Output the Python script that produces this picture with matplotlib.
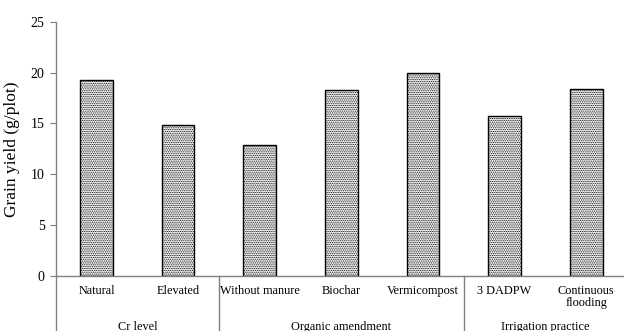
import numpy as np
import matplotlib
matplotlib.use("Agg")
from matplotlib import pyplot as plt
import matplotlib.transforms as mtransforms

categories = ["Natural", "Elevated", "Without manure", "Biochar", "Vermicompost",
              "3 DADPW", "Continuous\nflooding"]
grain_yield = [19.3, 14.8, 12.9, 18.3, 20.0, 15.7, 18.4]
groups = ["Cr level", "Organic amendment", "Irrigation practice"]
group_sizes = [2, 3, 2]

plt.rcParams['font.family'] = ['Liberation Serif', 'DejaVu Serif']
plt.rcParams['hatch.linewidth'] = 0.6
plt.rcParams['hatch.color'] = '#303030'

fig = plt.figure(figsize=(6.24, 3.31), dpi=100)
W, H = 624.0, 331.0
ax = fig.add_axes([55.7/W, (H-276)/H, (627-55.7)/W, (276-21.7)/H])

x = np.arange(len(categories))
ax.bar(x, grain_yield, width=0.4, color='white', edgecolor='black',
       linewidth=1.0, hatch='.........')

ax.set_xlim(-0.5, len(categories)-0.5)
ax.set_ylim(0, 25)
ax.set_yticks([0, 5, 10, 15, 20, 25])
ax.set_xticks([])
ax.tick_params(axis='y', labelsize=10, length=4, width=0.8, color='#808080', pad=4)
ax.set_ylabel("Grain yield (g/plot)", fontsize=12.5, labelpad=8)

for s in ['top', 'right']:
    ax.spines[s].set_visible(False)
for s in ['left', 'bottom']:
    ax.spines[s].set_color('#808080')
    ax.spines[s].set_linewidth(1.0)

trans = mtransforms.blended_transform_factory(ax.transData, ax.transAxes)
low = -0.23
# category labels
for i, c in enumerate(categories):
    ax.text(i, -0.035, c, transform=trans, ha='center', va='top', fontsize=8.8,
            linespacing=1.05)

# group separators and labels
edges = np.concatenate([[0], np.cumsum(group_sizes)]) - 0.5
for e in edges[:-1]:
    ax.plot([e, e], [0, low], transform=trans, color='#808080', lw=1.0, clip_on=False)
for g, a, b in zip(groups, edges[:-1], edges[1:]):
    ax.text((a+b)/2, -0.176, g, transform=trans, ha='center', va='top', fontsize=8.8)

fig.savefig("out.png", dpi=100)
